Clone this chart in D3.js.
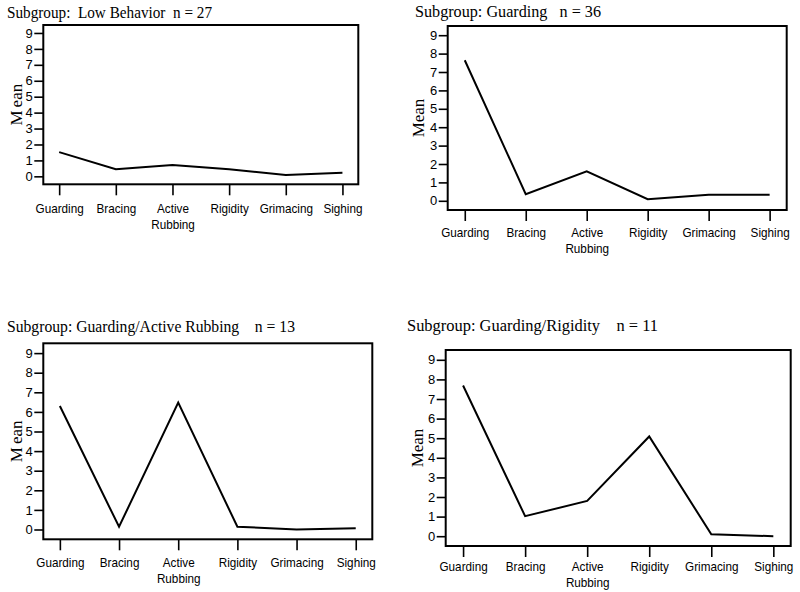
<!DOCTYPE html>
<html><head><meta charset="utf-8">
<script src="https://cdn.jsdelivr.net/npm/d3@7"></script>
<style>body{margin:0;background:#fff}svg{display:block}</style>
</head><body>
<svg id="c" width="800" height="592"></svg>
<script>
// ---- data ----
const categories = ["Guarding", "Bracing", "Active Rubbing", "Rigidity", "Grimacing", "Sighing"];
const yTickValues = [0, 1, 2, 3, 4, 5, 6, 7, 8, 9];
const lowBehavior = [1.52, 0.44, 0.71, 0.45, 0.08, 0.23];
const guarding = [7.64, 0.36, 1.60, 0.09, 0.33, 0.33];
const guardingActiveRubbing = [6.30, 0.14, 6.47, 0.14, 0.00, 0.07];
const guardingRigidity = [7.69, 1.02, 1.80, 5.09, 0.10, 0.00];
const panelTitles = [
  "Subgroup:  Low Behavior  n = 27",
  "Subgroup: Guarding   n = 36",
  "Subgroup: Guarding/Active Rubbing    n = 13",
  "Subgroup: Guarding/Rigidity    n = 11"
];
const yAxisTitle = "Mean";
const seriesList = [lowBehavior, guarding, guardingActiveRubbing, guardingRigidity];

// ---- layout ----
const layout = [
  {x0: 43.3, x1: 358.3, y0: 25, y1: 184.3, tx: 7, ty: 18.3, tw: 205, mx: 21.5, lb: 28.3, gap: 3},
  {x0: 447.7, x1: 786.7, y0: 26, y1: 210, tx: 415, ty: 16.8, tw: 186, mx: 424, lb: 26.7, gap: 0},
  {x0: 43.3, x1: 372.3, y0: 343.3, y1: 539.3, tx: 7, ty: 331.7, tw: 288, mx: 21.5, lb: 27.4, gap: 3},
  {x0: 445.7, x1: 790.7, y0: 350, y1: 546, tx: 407, ty: 330.7, tw: 251, mx: 422.7, lb: 24.5, gap: 0}
];

const svg = d3.select("#c");
const sans = "'Liberation Sans', Arial, Helvetica, sans-serif";
const serif = "'Liberation Serif', 'Times New Roman', Times, serif";
const condense = 0.9;

layout.forEach((L, i) => {
  const values = seriesList[i];
  const g = svg.append("g");
  const x = d3.scalePoint().domain(categories).range([L.x0, L.x1]).padding(0.28);
  const y = d3.scaleLinear().domain([-0.5, 9.5]).range([L.y1, L.y0]);

  // title
  g.append("text")
    .attr("x", L.tx).attr("y", L.ty)
    .attr("textLength", L.tw).attr("lengthAdjust", "spacingAndGlyphs")
    .style("white-space", "pre")
    .attr("font-family", serif).attr("font-size", 16.5).attr("fill", "#000")
    .text(panelTitles[i]);

  // y axis
  const ya = g.append("g").attr("transform", `translate(${L.x0},0)`)
    .call(d3.axisLeft(y).tickValues(yTickValues).tickSize(9).tickPadding(1.5).tickFormat(d3.format("d")));
  ya.select(".domain").remove();
  ya.selectAll(".tick line").attr("stroke", "#000").attr("stroke-width", 1.6);
  ya.selectAll(".tick text").attr("font-family", sans).attr("font-size", 13).attr("fill", "#000");

  // x axis
  const xa = g.append("g").attr("transform", `translate(0,${L.y1})`)
    .call(d3.axisBottom(x).tickSize(11));
  xa.select(".domain").remove();
  xa.selectAll(".tick line").attr("stroke", "#000").attr("stroke-width", 1.6);
  xa.selectAll(".tick text").each(function(d) {
    const t = d3.select(this);
    t.text(null).attr("y", L.lb).attr("dy", null)
      .attr("font-family", sans).attr("font-size", 13).attr("fill", "#000");
    d.split(" ").forEach((w, k) => {
      const ts = t.append("tspan").attr("x", 0).attr("dy", k === 0 ? 0 : 16.5).text(w);
      const len = ts.node().getComputedTextLength();
      ts.attr("textLength", len * condense).attr("lengthAdjust", "spacingAndGlyphs");
    });
  });

  // frame
  g.append("rect")
    .attr("x", L.x0).attr("y", L.y0)
    .attr("width", L.x1 - L.x0).attr("height", L.y1 - L.y0)
    .attr("fill", "none").attr("stroke", "#000").attr("stroke-width", 2);

  // y title
  const cy = (L.y0 + L.y1) / 2;
  const mt = g.append("text")
    .attr("transform", `translate(${L.mx},${cy}) rotate(-90)`)
    .attr("text-anchor", "middle")
    .attr("font-family", serif).attr("font-size", 17).attr("fill", "#000");
  mt.append("tspan").text(yAxisTitle.slice(0, 1));
  mt.append("tspan").attr("dx", L.gap).text(yAxisTitle.slice(1));

  // line
  const line = d3.line().x((d, k) => x(categories[k])).y(d => y(d));
  g.append("path").datum(values)
    .attr("d", line)
    .attr("fill", "none").attr("stroke", "#000").attr("stroke-width", 2)
    .attr("stroke-linejoin", "miter");
});
</script>
</body></html>
